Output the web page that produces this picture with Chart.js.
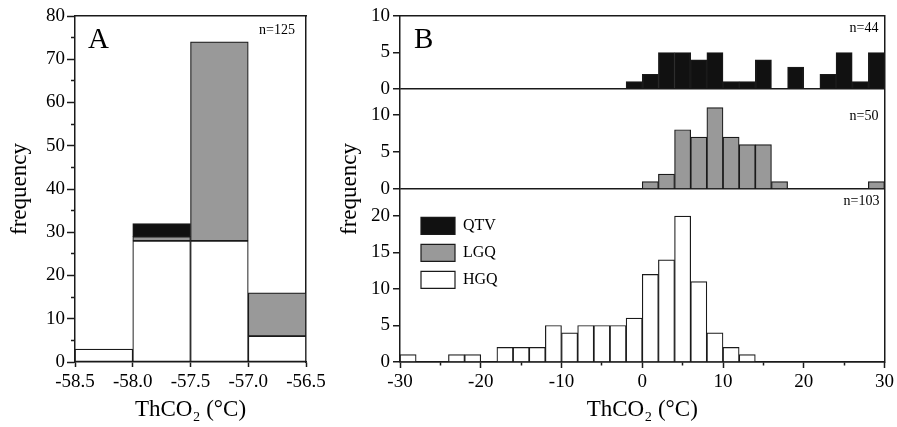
<!DOCTYPE html>
<html>
<head>
<meta charset="utf-8">
<script src="https://cdn.jsdelivr.net/npm/chart.js@4.4.0/dist/chart.umd.min.js"></script>
<style>
  body { margin: 0; background: #fff; }
  #wrap { position: relative; width: 897px; height: 427px; }
  #chartA { position: absolute; left: 0; top: 0; }
  #chartB { position: absolute; left: 330px; top: 0; }
</style>
</head>
<body>
<div id="wrap">
  <canvas id="chartA" width="330" height="427"></canvas>
  <canvas id="chartB" width="567" height="427"></canvas>
</div>
<script>
// Panel A: ThCO2 in 0.5 °C bins (bin centres)
const binsA = [-58.25, -57.75, -57.25, -56.75];
const hgqA = [3, 28, 28, 6];
const lgqA = [0, 1, 46, 10];
const qtvA = [0, 3, 0, 0];

// Panel B: 2 °C bins from -30 to 30 (bin centres)
const binsB = [-29, -27, -25, -23, -21, -19, -17, -15, -13, -11, -9, -7, -5, -3, -1,
               1, 3, 5, 7, 9, 11, 13, 15, 17, 19, 21, 23, 25, 27, 29];
const qtvB = [0, 0, 0, 0, 0, 0, 0, 0, 0, 0, 0, 0, 0, 0, 1, 2, 5, 5, 4, 5, 1, 1, 4, 0, 3, 0, 2, 5, 1, 5];
const lgqB = [0, 0, 0, 0, 0, 0, 0, 0, 0, 0, 0, 0, 0, 0, 0, 1, 2, 8, 7, 11, 7, 6, 6, 1, 0, 0, 0, 0, 0, 1];
const hgqB = [1, 0, 0, 1, 1, 0, 2, 2, 2, 5, 4, 5, 5, 5, 6, 12, 14, 20, 11, 4, 2, 1, 0, 0, 0, 0, 0, 0, 0, 0];

const serif = '"Liberation Serif", "Times New Roman", serif';
const ink = '#1a1a1a';
const grey = '#999999';

const sum = arr => arr.reduce((a, b) => a + b, 0);
// zero counts are left out so no empty outline is drawn
const toPoints = (xs, ys) => xs.map((x, i) => ({ x: x, y: ys[i] || null }));

// draws the panel letter and the n= counts inside the plot frame
function cornerLabels(items) {
    return {
        id: 'cornerLabels',
        afterDraw(chart) {
            const { ctx, chartArea } = chart;
            ctx.save();
            ctx.fillStyle = '#000';
            ctx.textBaseline = 'alphabetic';
            items.forEach(it => {
                const top = chart.scales[it.scale].top;
                ctx.font = it.size + 'px ' + serif;
                ctx.textAlign = it.side;
                const x = it.side === 'left' ? chartArea.left + it.dx : chartArea.right - it.dx;
                ctx.fillText(it.text, x, top + it.dy);
            });
            ctx.restore();
        }
    };
}

// the legend sits inside the plot; move it a little away from the y axis
const legendNudge = {
    id: 'legendNudge',
    afterLayout(chart) {
        if (chart.legend) chart.legend.left += 11;
    }
};

const tickFont = { family: serif, size: 19 };
const titleFont = { family: serif, size: 23 };
const frame = { color: ink, width: 1.5 };
const frameOnly = (pos, extra) => Object.assign({
    type: 'linear', position: pos,
    grid: { display: false, drawTicks: false },
    ticks: { display: false },
    border: frame
}, extra);

// minor ticks: only the part of the tick next to the axis is drawn
const isMajor = c => c.tick && c.tick.value % 10 === 0;
const minorLeft = c => isMajor(c) ? [] : [0, 4, 4];
const minorBottom = c => isMajor(c) ? [] : [3, 20];

// ---------- Panel A ----------
const barA = { barPercentage: 1, categoryPercentage: 1, borderWidth: 1.2, borderColor: ink, borderSkipped: false };

new Chart(document.getElementById('chartA'), {
    type: 'bar',
    data: {
        datasets: [
            Object.assign({ label: 'HGQ', data: toPoints(binsA, hgqA), backgroundColor: '#fff' }, barA),
            Object.assign({ label: 'LGQ', data: toPoints(binsA, lgqA), backgroundColor: grey }, barA),
            Object.assign({ label: 'QTV', data: toPoints(binsA, qtvA), backgroundColor: '#111' }, barA)
        ]
    },
    options: {
        responsive: false,
        animation: false,
        layout: { padding: { top: 16, right: 24, left: 0, bottom: 0 } },
        plugins: { legend: { display: false }, tooltip: { enabled: false } },
        scales: {
            x: {
                type: 'linear', stacked: true, offset: false,
                min: -58.5, max: -56.5,
                border: frame,
                grid: { offset: false, drawOnChartArea: false, color: ink, tickLength: 5, tickWidth: 1.5 },
                ticks: { stepSize: 0.5, autoSkip: false, maxRotation: 0, color: '#000', font: tickFont, padding: 4,
                         callback: v => v.toFixed(1) },
                title: { display: true, text: 'ThCO₂ (°C)', color: '#000', font: titleFont, padding: { top: 0, bottom: 3 } },
                afterFit: s => { s.height = 65; }
            },
            y: {
                stacked: true, min: 0, max: 80,
                border: frame,
                grid: { drawOnChartArea: false, color: ink, tickLength: 8, tickWidth: 1.5, tickBorderDash: minorLeft },
                ticks: { stepSize: 5, autoSkip: false, color: '#000', font: tickFont, padding: 2,
                         callback: v => v % 10 === 0 ? v : '' },
                title: { display: true, text: 'frequency', color: '#000', font: titleFont, padding: { top: 6, bottom: 0 } },
                afterFit: s => { s.width = 75; }
            },
            xTop: frameOnly('top', { afterFit: s => { s.height = 0; } }),
            yRight: frameOnly('right', { afterFit: s => { s.width = 0; } })
        }
    },
    plugins: [cornerLabels([
        { text: 'A', scale: 'y', side: 'left', dx: 13, dy: 32, size: 29 },
        { text: 'n=' + (sum(hgqA) + sum(lgqA) + sum(qtvA)), scale: 'y', side: 'right', dx: 11, dy: 18, size: 14 }
    ])]
});

// ---------- Panel B ----------
const barB = { barPercentage: 1, categoryPercentage: 1, grouped: false, borderWidth: 1.2, borderColor: ink };

function stackedY(max, weight) {
    return {
        type: 'linear', position: 'left', stack: 'panelB', stackWeight: weight,
        min: 0, max: max,
        border: frame,
        grid: { color: c => c.tick && c.tick.value === 0 ? ink : 'rgba(0,0,0,0)', lineWidth: 1.5,
                tickColor: ink, tickLength: 7, tickWidth: 1.5 },
        ticks: { stepSize: 5, includeBounds: false, autoSkip: false, color: '#000', font: tickFont, padding: 3 },
        afterFit: s => { s.width = 40; }
    };
}

new Chart(document.getElementById('chartB'), {
    type: 'bar',
    data: {
        datasets: [
            Object.assign({ label: 'QTV', data: toPoints(binsB, qtvB), yAxisID: 'yT', backgroundColor: '#111' }, barB),
            Object.assign({ label: 'LGQ', data: toPoints(binsB, lgqB), yAxisID: 'yM', backgroundColor: grey }, barB),
            Object.assign({ label: 'HGQ', data: toPoints(binsB, hgqB), yAxisID: 'yB', backgroundColor: '#fff' }, barB)
        ]
    },
    options: {
        responsive: false,
        animation: false,
        layout: { padding: { top: 16, right: 11, left: 0, bottom: 0 } },
        plugins: {
            tooltip: { enabled: false },
            legend: {
                position: 'chartArea', align: 'start',
                title: { display: true, text: '', font: { size: 12 }, padding: { top: 193, bottom: 0 } },
                labels: { boxWidth: 34, boxHeight: 17, padding: 10, color: '#000', font: { family: serif, size: 16 } }
            }
        },
        scales: {
            x: {
                type: 'linear', offset: false,
                min: -30, max: 30,
                border: frame,
                grid: { offset: false, drawOnChartArea: false, color: ink, tickLength: 6, tickWidth: 1.5, tickBorderDash: minorBottom },
                ticks: { stepSize: 5, autoSkip: false, maxRotation: 0, color: '#000', font: tickFont, padding: 3,
                         callback: v => v % 10 === 0 ? v : '' },
                title: { display: true, text: 'ThCO₂ (°C)', color: '#000', font: titleFont, padding: { top: 0, bottom: 3 } },
                afterFit: s => { s.height = 65; }
            },
            xTop: frameOnly('top', { afterFit: s => { s.height = 0; } }),
            yRight: frameOnly('right', { afterFit: s => { s.width = 0; } }),
            yB: stackedY(23.7, 173),
            yM: stackedY(13.5, 100),
            yT: stackedY(10, 73),
            yTitle: {
                type: 'linear', position: 'left',
                grid: { display: false, drawTicks: false },
                border: { display: false },
                ticks: { display: false },
                title: { display: true, text: 'frequency', color: '#000', font: titleFont, padding: { top: 6, bottom: 0 } },
                afterFit: s => { s.width = 30; }
            }
        }
    },
    plugins: [legendNudge, cornerLabels([
        { text: 'B', scale: 'yT', side: 'left', dx: 14, dy: 32, size: 29 },
        { text: 'n=' + sum(qtvB), scale: 'yT', side: 'right', dx: 6, dy: 16, size: 14 },
        { text: 'n=' + sum(lgqB), scale: 'yM', side: 'right', dx: 6, dy: 31, size: 14 },
        { text: 'n=' + sum(hgqB), scale: 'yB', side: 'right', dx: 5, dy: 16, size: 14 }
    ])]
});
</script>
</body>
</html>
